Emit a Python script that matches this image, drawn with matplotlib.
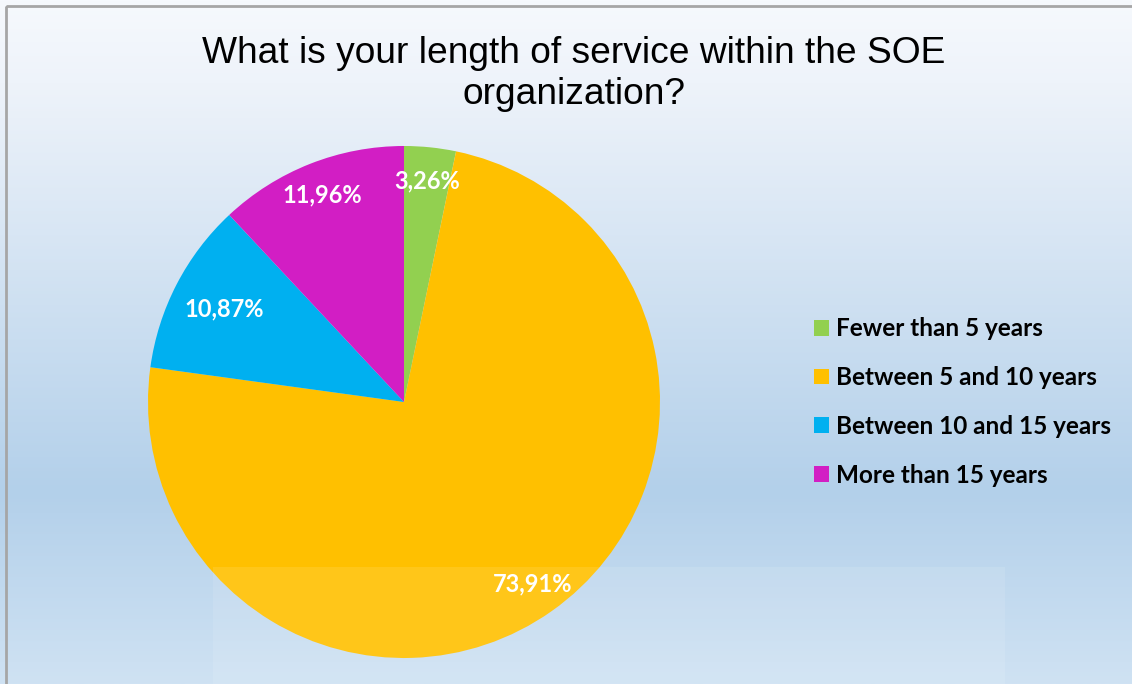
import numpy as np
import matplotlib.pyplot as plt
from matplotlib.colors import LinearSegmentedColormap
from matplotlib.patches import Rectangle

# Daten
categories = ["Fewer than 5 years", "Between 5 and 10 years",
              "Between 10 and 15 years", "More than 15 years"]
values = [3.26, 73.91, 10.87, 11.96]
colors = ["#92d050", "#ffc000", "#00b0f0", "#d21ec4"]
title = "What is your length of service within the SOE\norganization?"

W, H = 1132, 684
fig = plt.figure(figsize=(W / 100, H / 100), dpi=100)

# Hintergrund mit Verlauf
bg = fig.add_axes([0, 0, 1, 1], zorder=-10)
cmap = LinearSegmentedColormap.from_list(
    "bg", [(0, "#f6f9fd"), (0.12, "#eef3fa"), (0.72, "#b3d0ea"), (1, "#cfe2f3")])
grad = np.linspace(0, 1, 256).reshape(-1, 1)
bg.imshow(grad, aspect="auto", cmap=cmap, extent=[0, 1, 1, 0])
bg.set_xlim(0, 1)
bg.set_ylim(1, 0)
bg.axis("off")
# Rahmen
bg.add_patch(Rectangle((6 / W, 6 / H), 1.2, 1.2, fill=False,
                       edgecolor="#a6a6a6", linewidth=2))

# Titel
fig.text(574 / W, 1 - 74 / H, title, ha="center", va="center",
         family="Liberation Sans", fontsize=26.7, linespacing=1.25)

# Kreisdiagramm
cx, cy, r = 404, 402, 256
ax = fig.add_axes([(cx - r) / W, (H - cy - r) / H, 2 * r / W, 2 * r / H])
wedges, texts, autotexts = ax.pie(
    values, colors=colors, startangle=90, counterclock=False,
    autopct=lambda p: f"{p:.2f}%".replace(".", ","), pctdistance=0.87,
    textprops=dict(color="white", fontsize=17, fontweight="bold", family="Lato"))
# Label fuer 10,87% etwas weiter innen
x, y = autotexts[2].get_position()
autotexts[2].set_position((x * 0.79 / 0.87, y * 0.79 / 0.87))
ax.set_xlim(-1, 1)
ax.set_ylim(-1, 1)
ax.set_aspect("equal")

# Legende
leg = fig.legend(wedges, categories, loc="center left",
                 bbox_to_anchor=(792 / W, 1 - 402 / H), frameon=False,
                 prop=dict(family="Lato", weight="bold", size=17.5),
                 handlelength=0.62, handleheight=0.62, handletextpad=0.3,
                 labelspacing=1.06)

# halbtransparentes Rechteck unten (liegt auch ueber dem Kreis)
fig.patches.append(Rectangle((213 / W, 0), (1005 - 213) / W, (H - 567) / H,
                             transform=fig.transFigure, facecolor="white",
                             alpha=0.1, edgecolor="none", zorder=20))

fig.savefig("out.png", dpi=100)
